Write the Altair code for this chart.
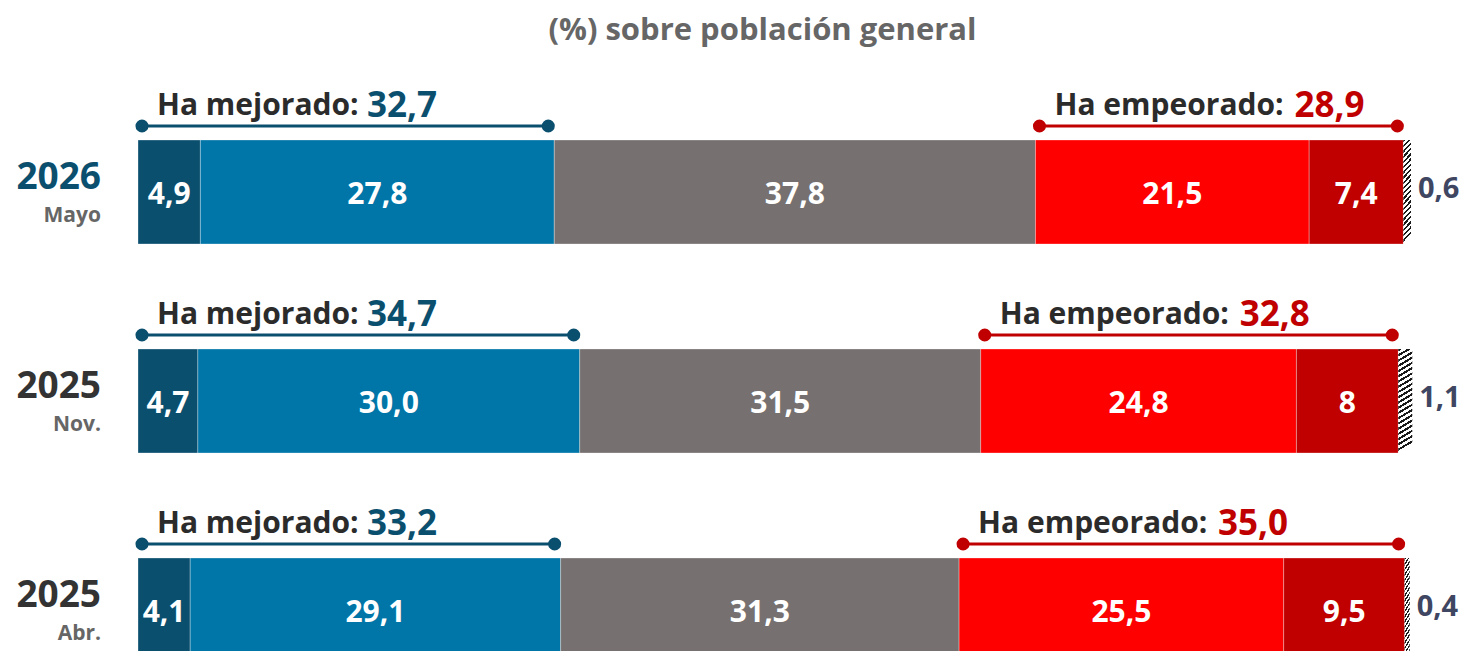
import altair as alt
import pandas as pd

# ---------------- data ----------------
years = ["2026", "2025", "2025"]
months = ["Mayo", "Nov.", "Abr."]
segments = ["Mucho mejor", "Algo mejor", "Igual", "Algo peor", "Mucho peor", "NS/NC"]
mucho_mejor = [4.9, 4.7, 4.1]
algo_mejor = [27.8, 30.0, 29.1]
igual = [37.8, 31.5, 31.3]
algo_peor = [21.5, 24.8, 25.5]
mucho_peor = [7.4, 8, 9.5]
ns_nc = [0.6, 1.1, 0.4]
ha_mejorado = [32.7, 34.7, 33.2]
ha_empeorado = [28.9, 32.8, 35.0]
title_text = "(%) sobre población general"

# ---------------- styles ----------------
FONT = "Open Sans"
seg_colors = ["#0b4f6f", "#0076a8", "#767170", "#ff0000", "#c00000"]
year_colors = ["#0b4f6f", "#333333", "#333333"]
MEJ = "#0b4f6f"
EMP = "#c00000"
HALF = 0.2488


def fmt(v):
    if isinstance(v, int):
        return str(v)
    return f"{v:.1f}".replace(".", ",")


series = [mucho_mejor, algo_mejor, igual, algo_peor, mucho_peor, ns_nc]
seg_rows = []
br_rows = []
row_rows = []
for i in range(len(years)):
    cum = 0.0
    for s, name in enumerate(segments):
        v = series[s][i]
        seg_rows.append({
            "row_i": i, "y0": i - HALF, "y1": i + HALF,
            "seg": name, "start": cum, "end": cum + v, "mid": cum + v / 2,
            "label": fmt(v), "color": seg_colors[s] if s < 5 else "#000000",
            "hatch": name == "NS/NC",
        })
        cum += v
    emp_start = mucho_mejor[i] + algo_mejor[i] + igual[i]
    br_rows.append({"row_i": i, "kind": "mej", "b_start": 0.0, "b_end": ha_mejorado[i],
                    "lab": "Ha mejorado:", "val": fmt(ha_mejorado[i]), "color": MEJ})
    br_rows.append({"row_i": i, "kind": "emp", "b_start": emp_start,
                    "b_end": emp_start + ha_empeorado[i],
                    "lab": "Ha empeorado:", "val": fmt(ha_empeorado[i]), "color": EMP})
    row_rows.append({"row_i": i, "year": years[i], "month": months[i], "ycolor": year_colors[i]})

seg_df = pd.DataFrame(seg_rows)
br_df = pd.DataFrame(br_rows)
row_df = pd.DataFrame(row_rows)

xs = alt.Scale(domain=[0, 100], nice=False, zero=False)
ys = alt.Scale(domain=[-0.4976, 2.1962], nice=False, zero=False, reverse=True)

# hatch gradient
stops = []
n = 20
for k in range(n):
    a, b, c = k / n, (k + 0.45) / n, (k + 1) / n
    stops += [{"offset": a, "color": "#1a1a1a"}, {"offset": b, "color": "#1a1a1a"},
              {"offset": b, "color": "#ffffff"}, {"offset": c, "color": "#ffffff"}]
hatch = {"gradient": "linear", "x1": 0, "y1": 0, "x2": 0.08, "y2": 1, "stops": stops}

base_seg = alt.Chart(seg_df)

bars = base_seg.transform_filter("!datum.hatch").mark_bar(
    stroke="white", strokeWidth=0.6, strokeOpacity=0.5
).encode(
    x=alt.X("start:Q", scale=xs, axis=None),
    x2="end:Q",
    y=alt.Y("y0:Q", scale=ys, axis=None),
    y2="y1:Q",
    color=alt.Color("color:N", scale=None),
)

hbars = base_seg.transform_filter("datum.hatch").mark_bar(color=hatch).encode(
    x=alt.X("start:Q", scale=xs, axis=None),
    x2="end:Q",
    y=alt.Y("y0:Q", scale=ys, axis=None),
    y2="y1:Q",
)

seg_labels = base_seg.transform_filter("!datum.hatch").mark_text(
    font=FONT, fontSize=30, fontWeight="bold", color="white", baseline="middle", dy=3
).encode(
    x=alt.X("mid:Q", scale=xs, axis=None),
    y=alt.Y("row_i:Q", scale=ys, axis=None),
    text="label:N",
)

ns_labels = base_seg.transform_filter("datum.hatch").mark_text(
    font=FONT, fontSize=29, fontWeight="bold", color="#3f4661", baseline="middle",
    align="left", dx=7, dy=-3
).encode(
    x=alt.X("end:Q", scale=xs, axis=None),
    y=alt.Y("row_i:Q", scale=ys, axis=None),
    text="label:N",
)

base_br = alt.Chart(br_df)
YOFF = -66

rules = base_br.mark_rule(strokeWidth=3, xOffset=4, x2Offset=-6, yOffset=YOFF).encode(
    x=alt.X("b_start:Q", scale=xs, axis=None),
    x2="b_end:Q",
    y=alt.Y("row_i:Q", scale=ys, axis=None),
    color=alt.Color("color:N", scale=None),
)
dots_a = base_br.mark_circle(size=170, opacity=1, xOffset=4, yOffset=YOFF).encode(
    x=alt.X("b_start:Q", scale=xs, axis=None),
    y=alt.Y("row_i:Q", scale=ys, axis=None),
    color=alt.Color("color:N", scale=None),
)
dots_b = base_br.mark_circle(size=170, opacity=1, xOffset=-6, yOffset=YOFF).encode(
    x=alt.X("b_end:Q", scale=xs, axis=None),
    y=alt.Y("row_i:Q", scale=ys, axis=None),
    color=alt.Color("color:N", scale=None),
)

br_labels = base_br.mark_text(
    font=FONT, fontSize=30, fontWeight="bold", color="#2b2b2b", align="left",
    baseline="alphabetic", dx=19, dy=-77
).encode(
    x=alt.X("b_start:Q", scale=xs, axis=None),
    y=alt.Y("row_i:Q", scale=ys, axis=None),
    text="lab:N",
)

val_mej = base_br.transform_filter("datum.kind == 'mej'").mark_text(
    font=FONT, fontSize=35, fontWeight="bold", align="left",
    baseline="alphabetic", dx=229, dy=-75
).encode(
    x=alt.X("b_start:Q", scale=xs, axis=None),
    y=alt.Y("row_i:Q", scale=ys, axis=None),
    text="val:N",
    color=alt.Color("color:N", scale=None),
)
val_emp = base_br.transform_filter("datum.kind == 'emp'").mark_text(
    font=FONT, fontSize=35, fontWeight="bold", align="left",
    baseline="alphabetic", dx=259, dy=-75
).encode(
    x=alt.X("b_start:Q", scale=xs, axis=None),
    y=alt.Y("row_i:Q", scale=ys, axis=None),
    text="val:N",
    color=alt.Color("color:N", scale=None),
)

base_row = alt.Chart(row_df)
year_lab = base_row.mark_text(
    font=FONT, fontSize=37, fontWeight="bold", align="right", baseline="alphabetic",
    dx=-37, dy=-3
).encode(
    x=alt.datum(0, scale=xs),
    y=alt.Y("row_i:Q", scale=ys, axis=None),
    text="year:N",
    color=alt.Color("ycolor:N", scale=None),
)
month_lab = base_row.mark_text(
    font=FONT, fontSize=21, fontWeight="bold", align="right", baseline="alphabetic",
    dx=-37, dy=30, color="#666666"
).encode(
    x=alt.datum(0, scale=xs),
    y=alt.Y("row_i:Q", scale=ys, axis=None),
    text="month:N",
)

chart = alt.layer(
    bars, hbars, seg_labels, ns_labels, rules, dots_a, dots_b,
    br_labels, val_mej, val_emp, year_lab, month_lab,
).properties(
    width=1273,
    height=563,
    autosize=alt.AutoSizeParams(type="none"),
    padding={"left": 130, "top": 80, "right": 51, "bottom": 0},
    title=alt.Title(title_text, font=FONT, fontSize=31, fontWeight="bold",
                    color="#666666", anchor="middle", frame="group", offset=41, dx=-12),
).configure_view(stroke=None)

chart.save("out.html", embed_options={"renderer": "svg", "actions": False})
